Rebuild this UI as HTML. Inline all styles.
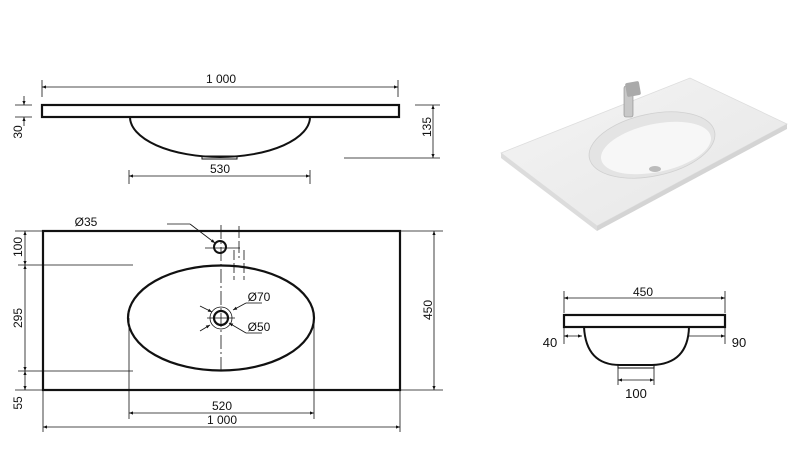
<!DOCTYPE html>
<html><head><meta charset="utf-8"><style>
html,body{margin:0;padding:0;background:#fff;}
svg{display:block;font-family:"Liberation Sans",Arial,sans-serif;}
</style></head><body>
<svg width="800" height="468" viewBox="0 0 800 468" xmlns="http://www.w3.org/2000/svg">
<defs>
<marker id="a" viewBox="0 0 10 10" refX="10" refY="5" markerWidth="7" markerHeight="5" orient="auto-start-reverse"><path d="M0,1 L10,5 L0,9 z" fill="#111"/></marker>
<linearGradient id="g" x1="0" y1="0" x2="1" y2="1"><stop offset="0" stop-color="#f4f4f4"/><stop offset="1" stop-color="#e6e6e6"/></linearGradient>
</defs>
<g stroke="#111" fill="none">
<rect x="42" y="105" width="357" height="12" stroke-width="2.2" fill="#fff"/>
<path d="M130,117 A90,40 0 0 0 310,117" stroke-width="2"/>
<rect x="202" y="156" width="35" height="3" stroke-width="1"/>
<g stroke-width="0.8">
<line x1="42" y1="80" x2="42" y2="97"/><line x1="398" y1="80" x2="398" y2="97"/>
<line x1="42" y1="87" x2="398" y2="87" marker-start="url(#a)" marker-end="url(#a)"/>
<line x1="15" y1="105" x2="32" y2="105"/><line x1="15" y1="117" x2="32" y2="117"/>
<line x1="24" y1="96" x2="24" y2="105" marker-end="url(#a)"/><line x1="24" y1="126" x2="24" y2="117" marker-end="url(#a)"/>
<line x1="415" y1="105" x2="440" y2="105"/><line x1="344" y1="158" x2="440" y2="158"/>
<line x1="433" y1="105" x2="433" y2="158" marker-start="url(#a)" marker-end="url(#a)"/>
<line x1="129" y1="170" x2="129" y2="184"/><line x1="310" y1="170" x2="310" y2="184"/>
<line x1="129" y1="176" x2="310" y2="176" marker-start="url(#a)" marker-end="url(#a)"/>
</g>
<rect x="43" y="231" width="357" height="159" stroke-width="2.2"/>
<ellipse cx="221" cy="318" rx="93" ry="52.5" stroke-width="2.2"/>
<circle cx="221" cy="318" r="7" stroke-width="2.2"/>
<circle cx="221" cy="318" r="11" stroke-width="0.8"/>
<circle cx="220" cy="247" r="6" stroke-width="2"/>
<g stroke-width="0.8">
<line x1="221" y1="225" x2="221" y2="373" stroke-dasharray="14,3,2,3"/>
<line x1="239" y1="226" x2="239" y2="258" stroke-dasharray="12,3"/>
<line x1="234" y1="250" x2="234" y2="280" stroke-dasharray="10,3"/>
<line x1="244" y1="250" x2="244" y2="280" stroke-dasharray="10,3"/>
<line x1="205" y1="248" x2="240" y2="248"/>
<line x1="207" y1="318" x2="235" y2="318"/>
<line x1="167" y1="224" x2="190" y2="224"/><line x1="190" y1="224" x2="215" y2="243" marker-end="url(#a)"/>
<line x1="200" y1="306" x2="212" y2="312" marker-end="url(#a)"/><line x1="200" y1="331" x2="210" y2="325" marker-end="url(#a)"/>
<line x1="262" y1="303" x2="246" y2="303"/><line x1="246" y1="303" x2="233" y2="310" marker-end="url(#a)"/>
<line x1="262" y1="333" x2="246" y2="333"/><line x1="246" y1="333" x2="229" y2="323" marker-end="url(#a)"/>
<line x1="15" y1="231" x2="43" y2="231"/><line x1="18" y1="265" x2="133" y2="265"/>
<line x1="18" y1="371" x2="133" y2="371"/><line x1="15" y1="390" x2="43" y2="390"/>
<line x1="25" y1="231" x2="25" y2="265" marker-start="url(#a)" marker-end="url(#a)"/>
<line x1="25" y1="265" x2="25" y2="371" marker-start="url(#a)" marker-end="url(#a)"/>
<line x1="25" y1="371" x2="25" y2="390" marker-start="url(#a)" marker-end="url(#a)"/>
<line x1="400" y1="231" x2="443" y2="231"/><line x1="400" y1="390" x2="443" y2="390"/>
<line x1="434" y1="231" x2="434" y2="390" marker-start="url(#a)" marker-end="url(#a)"/>
<line x1="129" y1="318" x2="129" y2="419"/><line x1="314" y1="318" x2="314" y2="419"/>
<line x1="129" y1="413" x2="314" y2="413" marker-start="url(#a)" marker-end="url(#a)"/>
<line x1="43" y1="390" x2="43" y2="432"/><line x1="400" y1="390" x2="400" y2="432"/>
<line x1="43" y1="427" x2="400" y2="427" marker-start="url(#a)" marker-end="url(#a)"/>
</g>
<rect x="564" y="315" width="161" height="12" stroke-width="2.2"/>
<path d="M584,327 Q586,365 620,365 L652,365 Q688,364 689,327" stroke-width="2"/>
<rect x="618" y="365" width="36" height="3" stroke-width="1"/>
<g stroke-width="0.8">
<line x1="564" y1="291" x2="564" y2="313"/><line x1="725" y1="291" x2="725" y2="313"/>
<line x1="564" y1="298" x2="725" y2="298" marker-start="url(#a)" marker-end="url(#a)"/>
<line x1="564" y1="327" x2="564" y2="344"/><line x1="725" y1="327" x2="725" y2="344"/>
<line x1="564" y1="336" x2="582" y2="336" marker-start="url(#a)" marker-end="url(#a)"/>
<line x1="689" y1="336" x2="725" y2="336" marker-end="url(#a)"/>
<line x1="618" y1="368" x2="618" y2="385"/><line x1="654" y1="368" x2="654" y2="385"/>
<line x1="618" y1="380" x2="654" y2="380" marker-start="url(#a)" marker-end="url(#a)"/>
</g>
</g>
<g>
<polygon points="501,153 690,78 787,124 597,226" fill="url(#g)" stroke="#ddd" stroke-width="0.8"/>
<polygon points="501,153 597,226 597,231 501,158" fill="#dcdcdc"/>
<polygon points="597,226 787,124 787,129 597,231" fill="#d4d4d4"/>
<ellipse cx="652" cy="145" rx="64" ry="31" transform="rotate(-12 652 145)" fill="#e4e4e4" stroke="#d0d0d0" stroke-width="0.8"/>
<ellipse cx="656" cy="148" rx="56" ry="24" transform="rotate(-12 656 148)" fill="#f7f7f7"/>
<ellipse cx="655" cy="169" rx="6" ry="3" fill="#bbb"/>
<rect x="624" y="86" width="9" height="31" rx="2" fill="#c8c8c8" stroke="#888" stroke-width="0.6"/>
<rect x="626" y="82" width="14" height="14" rx="2" fill="#aaa" transform="rotate(-10 633 89)"/>
</g>
<g fill="#111" font-size="12" text-anchor="middle">
<text x="221" y="83">1 000</text>
<text x="220" y="173">530</text>
<text transform="translate(22,132) rotate(-90)">30</text>
<text transform="translate(431,127) rotate(-90)">135</text>
<text x="86" y="226">Ø35</text>
<text x="259" y="301">Ø70</text>
<text x="259" y="331">Ø50</text>
<text transform="translate(22,247) rotate(-90)">100</text>
<text transform="translate(22,318) rotate(-90)">295</text>
<text transform="translate(22,403) rotate(-90)">55</text>
<text transform="translate(432,310) rotate(-90)">450</text>
<text x="222" y="410">520</text>
<text x="222" y="424">1 000</text>
<text x="643" y="296">450</text>
<text x="550" y="347" font-size="13">40</text>
<text x="739" y="347" font-size="13">90</text>
<text x="636" y="398" font-size="13">100</text>
</g>
</svg>
</body></html>
